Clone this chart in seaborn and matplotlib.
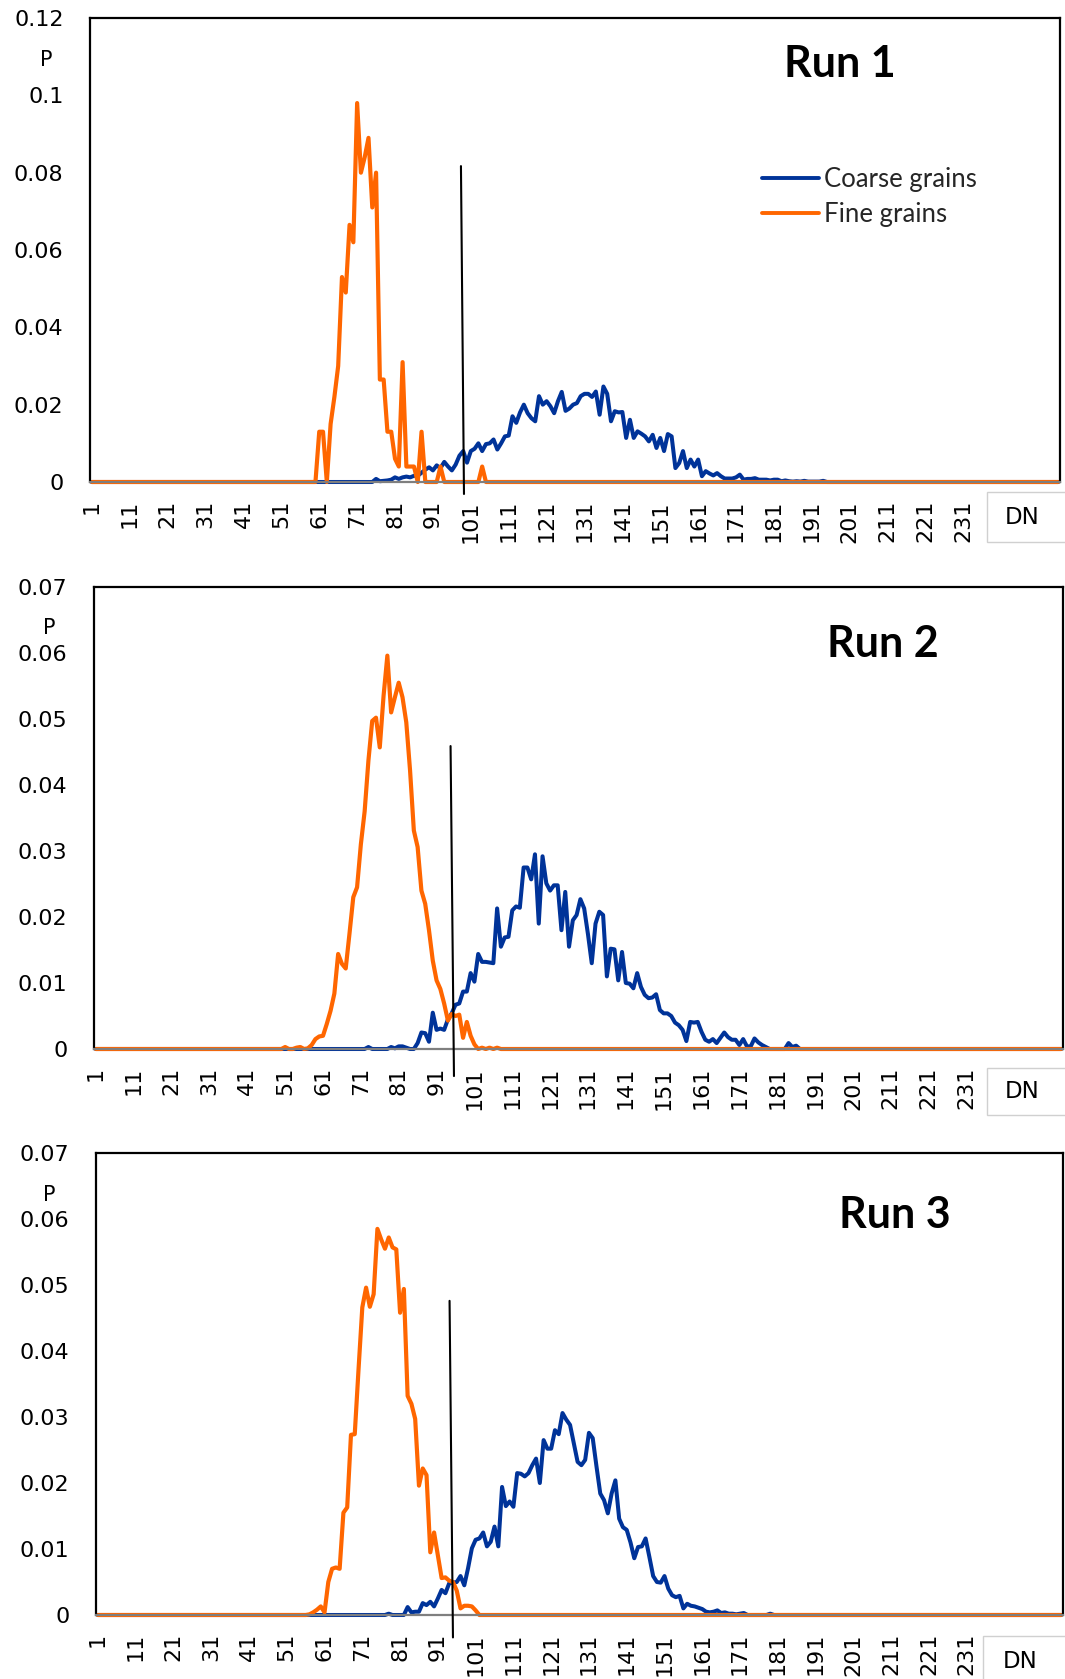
import numpy as np
import pandas as pd
import matplotlib
matplotlib.use("Agg")
import matplotlib.pyplot as plt
from matplotlib.patches import Rectangle
import seaborn as sns

# ---------------- data ----------------
dn_values = np.arange(1, 257)
xtick_values = list(range(1, 232, 10))
xtick_labels = [str(v) for v in xtick_values]

run1_coarse_start = 76
run1_coarse = [.0008, .0002, .0003, .0004, .0006, .0012, .0008, .0012, .0014, .0012,
               .0016, .0016, .0024, .0032, .0038, .003, .0043, .0036, .0052, .004,
               .003, .0045, .0068, .008, .005, .008, .0086, .0100, .008, .0098,
               .0100, .011, .0084, .0100, .0118, .012, .017, .0153, .018, .020,
               .0178, .0165, .0157, .0222, .020, .0209, .0196, .0178, .0209, .0233,
               .0184, .019, .020, .0204, .0222, .0228, .0228, .022, .0234, .0174,
               .0247, .0228, .0157, .0183, .018, .0181, .0114, .0161, .0114, .0131,
               .0125, .0118, .0105, .0122, .0088, .0114, .008, .0124, .0118, .0036,
               .0049, .008, .0036, .0058, .004, .0058, .0015, .0028, .0022, .0017,
               .0023, .0015, .0009, .0009, .0009, .0012, .0019, .0006, .0008, .0008,
               .001, .0006, .0006, .0006, .0004, .0006, .0006, .0002, .0004, .0002,
               .0001, .0002, .0001, .0003, .0001, .0001, .0001, .0001, .0003]
run1_fine_start = 60
run1_fine = [0, .013, .013, 0, .015, .022, .030, .053, .049, .0665,
             .062, .098, .080, .084, .089, .071, .080, .0265, .0265, .013,
             .013, .006, .004, .031, .004, .004, .004, 0, .013, 0,
             0, 0, 0, .004, 0, 0, 0, 0, 0, 0,
             0, 0, 0, 0, .004, 0]

run2_coarse_start = 73
run2_coarse = [.0003, 0, 0, 0, 0, 0, .0003, .0001, .0004, .0004,
               .0002, 0, 0, .0009, .0025, .0024, .0011, .0055, .0029, .0031,
               .0029, .0045, .0054, .0067, .0069, .0087, .0087, .0115, .0102, .0144,
               .0132, .0132, .0131, .013, .0213, .0155, .0169, .017, .021, .0216,
               .0214, .0275, .0275, .0257, .0295, .019, .0292, .0251, .024, .0248,
               .0248, .018, .0238, .0155, .0195, .0203, .0227, .0213, .0174, .013,
               .019, .0208, .0203, .011, .0152, .0151, .0104, .0147, .010, .0099,
               .0092, .0115, .0094, .0082, .0077, .0078, .0083, .0059, .0054, .0054,
               .005, .004, .0036, .0029, .0012, .0041, .004, .0041, .0026, .0014,
               .0011, .0015, .0009, .0017, .0025, .0018, .0014, .0014, .0006, .0015,
               .0004, .0004, .0016, .001, .0006, .0003, 0, 0, 0, 0,
               0, .0009, .0003, .0005]
run2_fine_start = 51
run2_fine = [.0003, 0, 0, .0002, .0003, 0, .0001, .0006, .0015, .0019,
             .002, .0038, .0058, .0084, .0144, .0129, .0122, .0175, .023, .0245,
             .031, .036, .0437, .0497, .0502, .0457, .0535, .0596, .051, .0533,
             .0555, .0533, .0495, .0422, .0331, .0306, .024, .022, .018, .0134,
             .0104, .0091, .0069, .0043, .0053, .005, .0052, .0017, .0041, .002,
             .0007, 0, .0002, 0, .0002, 0, .0002]

run3_coarse_start = 78
run3_coarse = [.0002, 0, 0, 0, 0, .0012, .0004, .0005, .0005, .0018,
               .0015, .002, .0013, .0025, .0038, .0033, .0048, .0049, .005, .0059,
               .0045, .0071, .0101, .0114, .0116, .0125, .0104, .0111, .0134, .0104,
               .0194, .0165, .0172, .0164, .0215, .0214, .021, .0215, .0227, .0237,
               .020, .0265, .0252, .0252, .028, .0274, .0306, .0296, .0288, .026,
               .0232, .0227, .0235, .0276, .0268, .0225, .0184, .0174, .0154, .0184,
               .0204, .0146, .0133, .0129, .011, .0086, .0103, .0104, .0116, .0088,
               .0059, .005, .0049, .0059, .004, .003, .0027, .0029, .001, .0017,
               .0014, .0013, .0011, .0009, .0005, .0004, .0005, .0007, .0003, .0004,
               .0002, .0002, .0001, .0002, .0003, 0, 0, 0, 0, 0,
               0, .0002]
run3_fine_start = 57
run3_fine = [.0001, .0004, .0008, .0013, .0004, .005, .007, .0072, .007, .0155,
             .0163, .0273, .0274, .0372, .0466, .0496, .0467, .0486, .0585, .0569,
             .0555, .0572, .0557, .0554, .0458, .0494, .0332, .032, .0297, .0196,
             .0222, .0212, .0095, .0125, .009, .0056, .0057, .0052, .005, .0037,
             .001, .0014, .0014, .0013, .0007]

run_titles = ["Run 1", "Run 2", "Run 3"]
series_names = ["Coarse grains", "Fine grains"]
y_max = [0.12, 0.07, 0.07]
y_ticks = [[0, .02, .04, .06, .08, .1, .12],
           [0, .01, .02, .03, .04, .05, .06, .07],
           [0, .01, .02, .03, .04, .05, .06, .07]]
y_tick_labels = [["0", "0.02", "0.04", "0.06", "0.08", "0.1", "0.12"],
                 ["0", "0.01", "0.02", "0.03", "0.04", "0.05", "0.06", "0.07"],
                 ["0", "0.01", "0.02", "0.03", "0.04", "0.05", "0.06", "0.07"]]
# threshold lines (DN, P) top and bottom end points
thr_dn = [[98.4, 99.2], [94.7, 95.6], [94.1, 95.0]]
thr_p = [[0.0817, -0.0031], [0.0459, -0.0041], [0.0476, -0.0034]]


def full_series(start, vals):
    arr = np.zeros(256)
    arr[start - 1:start - 1 + len(vals)] = vals
    return arr


coarse_all = [full_series(run1_coarse_start, run1_coarse),
              full_series(run2_coarse_start, run2_coarse),
              full_series(run3_coarse_start, run3_coarse)]
fine_all = [full_series(run1_fine_start, run1_fine),
            full_series(run2_fine_start, run2_fine),
            full_series(run3_fine_start, run3_fine)]

# ---------------- style ----------------
sns.set_theme(style="white")
plt.rcParams["font.family"] = ["DejaVu Sans"]

BLUE = "#003399"
ORANGE = "#FF6600"

W, H = 1065, 1679
fig = plt.figure(figsize=(W / 100, H / 100), dpi=100)
fig.patch.set_facecolor("white")

# axes boxes in pixels: left, right, top, bottom
boxes = [(90, 1060, 18, 482), (94, 1063, 587, 1049), (96, 1063, 1153, 1615)]
title_pos = [(840, 64), (883, 644), (895, 1215)]
p_pos = [(46, 60), (49, 628), (49, 1195)]
dn_box = [(987, 492, 80, 50), (987, 1068, 80, 47), (983, 1636, 84, 45)]
dn_txt = [(1022, 518), (1022, 1092), (1020, 1662)]


def fx(x):
    return x / W


def fy(y):
    return 1 - y / H


for i in range(3):
    l, r, t, b = boxes[i]
    ax = fig.add_axes([fx(l), fy(b), (r - l) / W, (b - t) / H])
    ax.set_facecolor("white")
    sns.lineplot(x=dn_values, y=coarse_all[i], color=BLUE, linewidth=2.9,
                 label=series_names[0], ax=ax, errorbar=None)
    sns.lineplot(x=dn_values, y=fine_all[i], color=ORANGE, linewidth=3.0,
                 label=series_names[1], ax=ax, errorbar=None)
    for ln in ax.lines:
        ln.set_clip_on(False)
        ln.set_solid_joinstyle("round")
    ax.plot(thr_dn[i], thr_p[i], color="black", linewidth=1.5, clip_on=False, zorder=5)

    ax.set_xlim(0.5, 256.5)
    ax.set_ylim(0, y_max[i])
    ax.set_xticks(xtick_values)
    ax.set_xticklabels(xtick_labels, rotation=90)
    ax.set_yticks(y_ticks[i])
    ax.set_yticklabels(y_tick_labels[i])
    ax.tick_params(axis="x", length=0, pad=13, labelsize=16, colors="black")
    ax.tick_params(axis="y", length=0, pad=19, labelsize=16, colors="black")
    ax.set_xlabel("")
    ax.set_ylabel("")
    ax.grid(False)
    for name, s in ax.spines.items():
        s.set_visible(True)
        s.set_color("black")
        s.set_linewidth(1.6)
    ax.spines["bottom"].set_color("#7f7f7f")

    if i == 0:
        leg = ax.legend(loc="upper left", bbox_to_anchor=(0.693, 0.678),
                        frameon=False, prop={"family": "Lato", "size": 18.5},
                        handlelength=2.2, handletextpad=0.2, labelspacing=0.38,
                        borderpad=0, borderaxespad=0)
        for h in leg.legend_handles:
            h.set_linewidth(2.8)
    else:
        lg = ax.get_legend()
        if lg is not None:
            lg.remove()

    fig.text(fx(title_pos[i][0]), fy(title_pos[i][1]), run_titles[i],
             ha="center", va="center", fontsize=31, fontweight="bold",
             family="Lato", color="black")
    fig.text(fx(p_pos[i][0]), fy(p_pos[i][1]), "P", ha="center", va="center",
             fontsize=15, color="black")

    bx, by, bw, bh = dn_box[i]
    fig.patches.append(Rectangle((fx(bx), fy(by + bh)), bw / W, bh / H,
                                 transform=fig.transFigure, facecolor="white",
                                 edgecolor="#d0d0d0", linewidth=1.0, zorder=10))
    fig.text(fx(dn_txt[i][0]), fy(dn_txt[i][1]), "DN", ha="center", va="center",
             fontsize=16.5, color="black", zorder=11)

fig.savefig("out.png", dpi=100, facecolor="white")
